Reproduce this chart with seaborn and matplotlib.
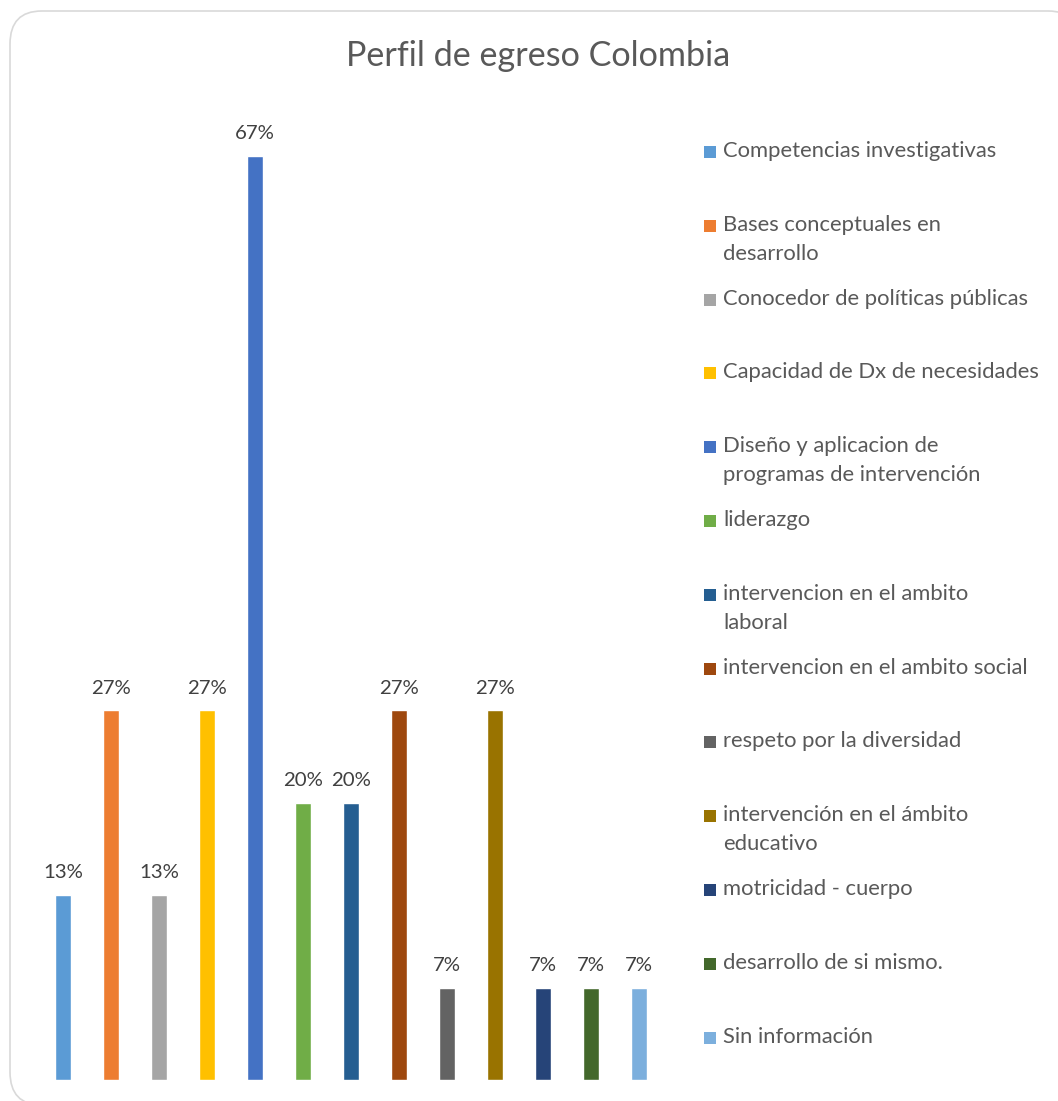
import matplotlib
matplotlib.use("Agg")
import matplotlib.pyplot as plt
from matplotlib.patches import FancyBboxPatch, Rectangle
import seaborn as sns
import pandas as pd

# Data
categories = [
    "Competencias investigativas",
    "Bases conceptuales en desarrollo",
    "Conocedor de políticas públicas",
    "Capacidad de Dx de necesidades",
    "Diseño y aplicacion de programas de intervención",
    "liderazgo",
    "intervencion en el ambito laboral",
    "intervencion en el ambito social",
    "respeto por la diversidad",
    "intervención en el ámbito educativo",
    "motricidad - cuerpo",
    "desarrollo de si mismo.",
    "Sin información",
]
legend_labels = [
    "Competencias investigativas",
    "Bases conceptuales en\ndesarrollo",
    "Conocedor de políticas públicas",
    "Capacidad de Dx de necesidades",
    "Diseño y aplicacion de\nprogramas de intervención",
    "liderazgo",
    "intervencion en el ambito\nlaboral",
    "intervencion en el ambito social",
    "respeto por la diversidad",
    "intervención en el ámbito\neducativo",
    "motricidad - cuerpo",
    "desarrollo de si mismo.",
    "Sin información",
]
values = [0.1333, 0.2667, 0.1333, 0.2667, 0.6667, 0.20, 0.20,
          0.2667, 0.0667, 0.2667, 0.0667, 0.0667, 0.0667]
colors = [
    "#5B9BD5", "#ED7D31", "#A5A5A5", "#FFC000", "#4472C4", "#70AD47",
    "#255E91", "#9E480E", "#636363", "#997300", "#264478", "#43682B", "#7CAFDD",
]

sns.set_theme(style="white")
plt.rcParams["font.family"] = ["Lato", "DejaVu Sans"]
text_color = "#595959"
label_color = "#404040"

W, H = 1058, 1101
fig = plt.figure(figsize=(W / 100, H / 100), dpi=100)

# Rounded chart frame (behind everything)
frame = FancyBboxPatch(
    (10 / W, 1 - 1105 / H), 1070 / W, 1094 / H,
    boxstyle="round,pad=0,rounding_size=0.03",
    transform=fig.transFigure, facecolor="white", edgecolor="#D9D9D9",
    linewidth=1.2, zorder=-10,
)
fig.patches.append(frame)

ax = fig.add_axes([39 / W, 1 - 1080 / H, 624 / W, 970 / H])
ax.set_facecolor("none")
ax.set_zorder(5)

df = pd.DataFrame({"Categoria": categories, "Valor": values})
sns.barplot(
    data=df, x="Categoria", y="Valor", hue="Categoria",
    palette=colors, width=0.33, legend=False, ax=ax, saturation=1,
)
ax.set_ylim(0, 0.7)
ax.set_xlim(-0.5, len(categories) - 0.5)
ax.set_xticks([])
ax.set_yticks([])
ax.set_xlabel("")
ax.set_ylabel("")
sns.despine(ax=ax, left=True, bottom=True)

for i, v in enumerate(values):
    ax.annotate(f"{v:.0%}", (i, v), xytext=(0, 10), textcoords="offset points",
                ha="center", va="bottom", fontsize=14.7, color=label_color)

fig.text(538 / W, 1 - 56 / H, "Perfil de egreso Colombia", ha="center",
         va="center", fontsize=24.6, color=text_color)

# Legend drawn manually so the square aligns with the first line
for i, (lab, col) in enumerate(zip(legend_labels, colors)):
    y = 152 + i * 73.8
    fig.patches.append(Rectangle((704 / W, 1 - (y + 6) / H), 12 / W, 12 / H,
                                 transform=fig.transFigure, facecolor=col,
                                 edgecolor="none", zorder=1))
    fig.text(723 / W, 1 - (y - 11) / H, lab, ha="left", va="top",
             fontsize=15.8, color=text_color, linespacing=1.55)

fig.savefig("out.png", dpi=100)
